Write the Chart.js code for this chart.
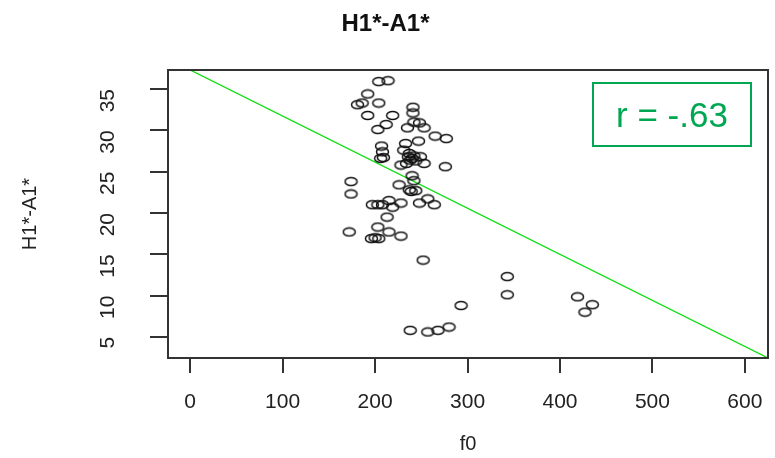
<!DOCTYPE html>
<html lang="en">
<head>
    <meta charset="UTF-8">
    <title>H1*-A1* vs f0</title>
    <script src="https://cdn.jsdelivr.net/npm/chart.js"></script>
    <style>
        html, body { margin: 0; padding: 0; background: #fff; }
        #wrap { position: relative; width: 775px; height: 458px; }
        #rbox {
            position: absolute; left: 592px; top: 82px; width: 156px; height: 61px;
            border: 2px solid #00a651; color: #00a651;
            font: 35px "Liberation Sans", Arial, sans-serif;
            display: flex; align-items: center; justify-content: center;
        }
    </style>
</head>
<body>
<div id="wrap">
    <canvas id="grafico" width="775" height="458"></canvas>
    <div id="rbox">r = -.63</div>
</div>
<script>
    // datos
    const f0Values = [
        204, 214, 192, 181, 186, 204, 192, 219, 241, 241, 242, 203, 212, 235, 253, 248, 265, 277,
        207, 208, 209, 233, 247, 231, 236, 238, 240, 242, 237, 244, 234, 249, 253, 228, 276, 206,
        174, 174, 240, 242, 226, 237, 239, 244,
        203, 208, 215, 219, 228, 248, 257, 264, 197,
        213, 203, 215, 228, 172, 196, 200, 204,
        252, 293, 238, 257, 268, 280,
        343, 343, 419, 435, 427
    ];
    const h1a1Values = [
        35.9, 36.0, 34.4, 33.1, 33.3, 33.3, 31.8, 31.8, 32.8, 32.1, 31.0, 30.1, 30.7, 30.3, 30.3, 30.9, 29.3, 29.0,
        28.1, 27.4, 26.7, 28.4, 28.7, 27.6, 26.8, 26.4, 26.6, 26.9, 27.2, 26.3, 26.0, 26.8, 26.0, 25.8, 25.6, 26.6,
        23.8, 22.3, 24.5, 23.9, 23.4, 22.8, 22.6, 22.7,
        21.0, 21.0, 21.5, 20.7, 21.2, 21.2, 21.7, 21.0, 21.0,
        19.5, 18.3, 17.7, 17.2, 17.7, 16.9, 17.0, 16.9,
        14.3, 8.8, 5.8, 5.6, 5.8, 6.2,
        12.3, 10.1, 9.85, 8.9, 8.0
    ];
    // recta de regresion (extremos)
    const lineX = [-24, 625];
    const lineY = [38.64, 2.45];

    const xTicks = [0, 100, 200, 300, 400, 500, 600];
    const yTicks = [5, 10, 15, 20, 25, 30, 35];

    // marcador: circulo abierto algo achatado
    const marker = document.createElement('canvas');
    marker.width = 15; marker.height = 11;
    const mctx = marker.getContext('2d');
    mctx.strokeStyle = '#111';
    mctx.lineWidth = 1.5;
    mctx.beginPath();
    mctx.ellipse(7.5, 5.5, 6, 4, 0, 0, Math.PI * 2);
    mctx.stroke();

    const puntos = f0Values.map((x, i) => ({ x: x, y: h1a1Values[i] }));
    const recta = lineX.map((x, i) => ({ x: x, y: lineY[i] }));

    const marco = {
        id: 'marco',
        afterDatasetsDraw(chart) {
            const a = chart.chartArea, ctx = chart.ctx;
            ctx.save();
            ctx.strokeStyle = '#333';
            ctx.lineWidth = 2;
            ctx.strokeRect(a.left, a.top, a.right - a.left, a.bottom - a.top);
            ctx.restore();
        }
    };

    const familia = '"Liberation Sans", Arial, sans-serif';
    const fuente = { family: familia, size: 21 };

    new Chart(document.getElementById('grafico'), {
        type: 'scatter',
        data: {
            datasets: [{
                data: puntos,
                pointStyle: marker,
                pointRadius: 6,
                pointHoverRadius: 6
            }, {
                type: 'line',
                data: recta,
                borderColor: '#10e010',
                borderWidth: 1.3,
                pointRadius: 0,
                fill: false
            }]
        },
        options: {
            responsive: false,
            animation: false,
            layout: { padding: { left: 0, right: 4, top: 0, bottom: 0 } },
            plugins: {
                legend: { display: false },
                tooltip: { enabled: false },
                title: {
                    display: true,
                    text: 'H1*-A1*',
                    color: '#111',
                    font: { family: familia, size: 24, weight: 'bold' },
                    padding: { top: 10, bottom: 31.2 }
                }
            },
            scales: {
                x: {
                    type: 'linear',
                    min: -24, max: 625,
                    afterBuildTicks: s => { s.ticks = xTicks.map(v => ({ value: v })); },
                    afterFit: s => { s.height = 100; s.paddingLeft = 0; s.paddingRight = 0; },
                    grid: { drawOnChartArea: false, drawTicks: true, tickLength: 15, color: '#333', lineWidth: 2 },
                    border: { display: true, color: '#333', width: 2 },
                    ticks: { color: '#222', font: fuente, padding: 17, maxRotation: 0 },
                    title: { display: true, text: 'f0', color: '#222', font: { family: familia, size: 20 }, padding: { top: 0, bottom: 2 } }
                },
                y: {
                    type: 'linear',
                    min: 2.45, max: 37.3,
                    afterBuildTicks: s => { s.ticks = yTicks.map(v => ({ value: v })); },
                    afterFit: s => { s.width = 168; s.paddingTop = 0; s.paddingBottom = 0; },
                    grid: { drawOnChartArea: false, drawTicks: true, tickLength: 18, color: '#333', lineWidth: 2 },
                    border: { display: true, color: '#333', width: 2 },
                    ticks: { color: '#222', font: fuente, padding: 42, minRotation: 90, maxRotation: 90 },
                    title: { display: true, text: 'H1*-A1*', color: '#222', font: { family: familia, size: 20 }, padding: { top: 18, bottom: 0 } }
                }
            }
        },
        plugins: [marco]
    });
</script>
</body>
</html>
